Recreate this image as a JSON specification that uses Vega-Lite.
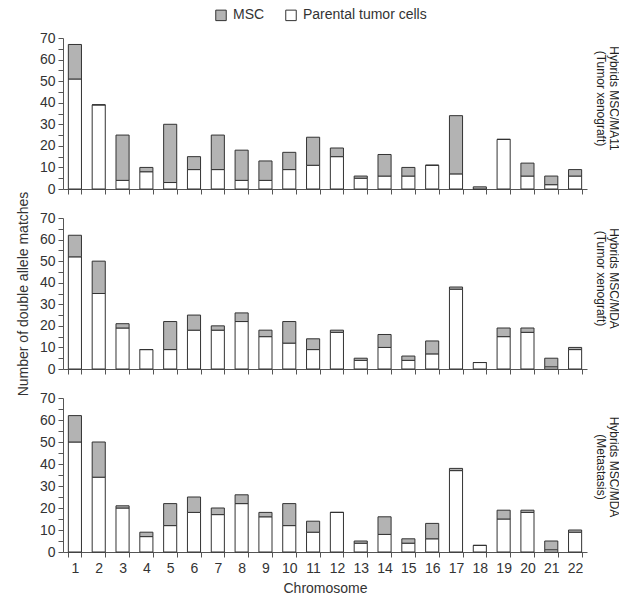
{
  "$schema": "https://vega.github.io/schema/vega-lite/v6.json",
  "padding": {"left": 16, "top": 8, "right": 1, "bottom": 4},
  "background": "white",
  "config": {
    "font": "Liberation Sans",
    "view": {"stroke": null},
    "axis": {"grid": false, "domainColor": "#555", "tickColor": "#555", "labelColor": "#333", "titleColor": "#333", "labelFontSize": 14, "titleFontSize": 14, "titleFontWeight": "normal", "tickSize": 5},
    "title": {"font": "Liberation Sans"}
  },
  "datasets": {
    "d": [
      {"panel": 1, "chr": 1, "type": "Parental tumor cells", "value": 51}, {"panel": 1, "chr": 1, "type": "MSC", "value": 16},
      {"panel": 1, "chr": 2, "type": "Parental tumor cells", "value": 39}, {"panel": 1, "chr": 2, "type": "MSC", "value": 0},
      {"panel": 1, "chr": 3, "type": "Parental tumor cells", "value": 4}, {"panel": 1, "chr": 3, "type": "MSC", "value": 21},
      {"panel": 1, "chr": 4, "type": "Parental tumor cells", "value": 8}, {"panel": 1, "chr": 4, "type": "MSC", "value": 2},
      {"panel": 1, "chr": 5, "type": "Parental tumor cells", "value": 3}, {"panel": 1, "chr": 5, "type": "MSC", "value": 27},
      {"panel": 1, "chr": 6, "type": "Parental tumor cells", "value": 9}, {"panel": 1, "chr": 6, "type": "MSC", "value": 6},
      {"panel": 1, "chr": 7, "type": "Parental tumor cells", "value": 9}, {"panel": 1, "chr": 7, "type": "MSC", "value": 16},
      {"panel": 1, "chr": 8, "type": "Parental tumor cells", "value": 4}, {"panel": 1, "chr": 8, "type": "MSC", "value": 14},
      {"panel": 1, "chr": 9, "type": "Parental tumor cells", "value": 4}, {"panel": 1, "chr": 9, "type": "MSC", "value": 9},
      {"panel": 1, "chr": 10, "type": "Parental tumor cells", "value": 9}, {"panel": 1, "chr": 10, "type": "MSC", "value": 8},
      {"panel": 1, "chr": 11, "type": "Parental tumor cells", "value": 11}, {"panel": 1, "chr": 11, "type": "MSC", "value": 13},
      {"panel": 1, "chr": 12, "type": "Parental tumor cells", "value": 15}, {"panel": 1, "chr": 12, "type": "MSC", "value": 4},
      {"panel": 1, "chr": 13, "type": "Parental tumor cells", "value": 5}, {"panel": 1, "chr": 13, "type": "MSC", "value": 1},
      {"panel": 1, "chr": 14, "type": "Parental tumor cells", "value": 6}, {"panel": 1, "chr": 14, "type": "MSC", "value": 10},
      {"panel": 1, "chr": 15, "type": "Parental tumor cells", "value": 6}, {"panel": 1, "chr": 15, "type": "MSC", "value": 4},
      {"panel": 1, "chr": 16, "type": "Parental tumor cells", "value": 11}, {"panel": 1, "chr": 16, "type": "MSC", "value": 0},
      {"panel": 1, "chr": 17, "type": "Parental tumor cells", "value": 7}, {"panel": 1, "chr": 17, "type": "MSC", "value": 27},
      {"panel": 1, "chr": 18, "type": "Parental tumor cells", "value": 0}, {"panel": 1, "chr": 18, "type": "MSC", "value": 1},
      {"panel": 1, "chr": 19, "type": "Parental tumor cells", "value": 23}, {"panel": 1, "chr": 19, "type": "MSC", "value": 0},
      {"panel": 1, "chr": 20, "type": "Parental tumor cells", "value": 6}, {"panel": 1, "chr": 20, "type": "MSC", "value": 6},
      {"panel": 1, "chr": 21, "type": "Parental tumor cells", "value": 2}, {"panel": 1, "chr": 21, "type": "MSC", "value": 4},
      {"panel": 1, "chr": 22, "type": "Parental tumor cells", "value": 6}, {"panel": 1, "chr": 22, "type": "MSC", "value": 3},

      {"panel": 2, "chr": 1, "type": "Parental tumor cells", "value": 52}, {"panel": 2, "chr": 1, "type": "MSC", "value": 10},
      {"panel": 2, "chr": 2, "type": "Parental tumor cells", "value": 35}, {"panel": 2, "chr": 2, "type": "MSC", "value": 15},
      {"panel": 2, "chr": 3, "type": "Parental tumor cells", "value": 19}, {"panel": 2, "chr": 3, "type": "MSC", "value": 2},
      {"panel": 2, "chr": 4, "type": "Parental tumor cells", "value": 9}, {"panel": 2, "chr": 4, "type": "MSC", "value": 0},
      {"panel": 2, "chr": 5, "type": "Parental tumor cells", "value": 9}, {"panel": 2, "chr": 5, "type": "MSC", "value": 13},
      {"panel": 2, "chr": 6, "type": "Parental tumor cells", "value": 18}, {"panel": 2, "chr": 6, "type": "MSC", "value": 7},
      {"panel": 2, "chr": 7, "type": "Parental tumor cells", "value": 18}, {"panel": 2, "chr": 7, "type": "MSC", "value": 2},
      {"panel": 2, "chr": 8, "type": "Parental tumor cells", "value": 22}, {"panel": 2, "chr": 8, "type": "MSC", "value": 4},
      {"panel": 2, "chr": 9, "type": "Parental tumor cells", "value": 15}, {"panel": 2, "chr": 9, "type": "MSC", "value": 3},
      {"panel": 2, "chr": 10, "type": "Parental tumor cells", "value": 12}, {"panel": 2, "chr": 10, "type": "MSC", "value": 10},
      {"panel": 2, "chr": 11, "type": "Parental tumor cells", "value": 9}, {"panel": 2, "chr": 11, "type": "MSC", "value": 5},
      {"panel": 2, "chr": 12, "type": "Parental tumor cells", "value": 17}, {"panel": 2, "chr": 12, "type": "MSC", "value": 1},
      {"panel": 2, "chr": 13, "type": "Parental tumor cells", "value": 4}, {"panel": 2, "chr": 13, "type": "MSC", "value": 1},
      {"panel": 2, "chr": 14, "type": "Parental tumor cells", "value": 10}, {"panel": 2, "chr": 14, "type": "MSC", "value": 6},
      {"panel": 2, "chr": 15, "type": "Parental tumor cells", "value": 4}, {"panel": 2, "chr": 15, "type": "MSC", "value": 2},
      {"panel": 2, "chr": 16, "type": "Parental tumor cells", "value": 7}, {"panel": 2, "chr": 16, "type": "MSC", "value": 6},
      {"panel": 2, "chr": 17, "type": "Parental tumor cells", "value": 37}, {"panel": 2, "chr": 17, "type": "MSC", "value": 1},
      {"panel": 2, "chr": 18, "type": "Parental tumor cells", "value": 3}, {"panel": 2, "chr": 18, "type": "MSC", "value": 0},
      {"panel": 2, "chr": 19, "type": "Parental tumor cells", "value": 15}, {"panel": 2, "chr": 19, "type": "MSC", "value": 4},
      {"panel": 2, "chr": 20, "type": "Parental tumor cells", "value": 17}, {"panel": 2, "chr": 20, "type": "MSC", "value": 2},
      {"panel": 2, "chr": 21, "type": "Parental tumor cells", "value": 1}, {"panel": 2, "chr": 21, "type": "MSC", "value": 4},
      {"panel": 2, "chr": 22, "type": "Parental tumor cells", "value": 9}, {"panel": 2, "chr": 22, "type": "MSC", "value": 1},

      {"panel": 3, "chr": 1, "type": "Parental tumor cells", "value": 50}, {"panel": 3, "chr": 1, "type": "MSC", "value": 12},
      {"panel": 3, "chr": 2, "type": "Parental tumor cells", "value": 34}, {"panel": 3, "chr": 2, "type": "MSC", "value": 16},
      {"panel": 3, "chr": 3, "type": "Parental tumor cells", "value": 20}, {"panel": 3, "chr": 3, "type": "MSC", "value": 1},
      {"panel": 3, "chr": 4, "type": "Parental tumor cells", "value": 7}, {"panel": 3, "chr": 4, "type": "MSC", "value": 2},
      {"panel": 3, "chr": 5, "type": "Parental tumor cells", "value": 12}, {"panel": 3, "chr": 5, "type": "MSC", "value": 10},
      {"panel": 3, "chr": 6, "type": "Parental tumor cells", "value": 18}, {"panel": 3, "chr": 6, "type": "MSC", "value": 7},
      {"panel": 3, "chr": 7, "type": "Parental tumor cells", "value": 17}, {"panel": 3, "chr": 7, "type": "MSC", "value": 3},
      {"panel": 3, "chr": 8, "type": "Parental tumor cells", "value": 22}, {"panel": 3, "chr": 8, "type": "MSC", "value": 4},
      {"panel": 3, "chr": 9, "type": "Parental tumor cells", "value": 16}, {"panel": 3, "chr": 9, "type": "MSC", "value": 2},
      {"panel": 3, "chr": 10, "type": "Parental tumor cells", "value": 12}, {"panel": 3, "chr": 10, "type": "MSC", "value": 10},
      {"panel": 3, "chr": 11, "type": "Parental tumor cells", "value": 9}, {"panel": 3, "chr": 11, "type": "MSC", "value": 5},
      {"panel": 3, "chr": 12, "type": "Parental tumor cells", "value": 18}, {"panel": 3, "chr": 12, "type": "MSC", "value": 0},
      {"panel": 3, "chr": 13, "type": "Parental tumor cells", "value": 4}, {"panel": 3, "chr": 13, "type": "MSC", "value": 1},
      {"panel": 3, "chr": 14, "type": "Parental tumor cells", "value": 8}, {"panel": 3, "chr": 14, "type": "MSC", "value": 8},
      {"panel": 3, "chr": 15, "type": "Parental tumor cells", "value": 4}, {"panel": 3, "chr": 15, "type": "MSC", "value": 2},
      {"panel": 3, "chr": 16, "type": "Parental tumor cells", "value": 6}, {"panel": 3, "chr": 16, "type": "MSC", "value": 7},
      {"panel": 3, "chr": 17, "type": "Parental tumor cells", "value": 37}, {"panel": 3, "chr": 17, "type": "MSC", "value": 1},
      {"panel": 3, "chr": 18, "type": "Parental tumor cells", "value": 3}, {"panel": 3, "chr": 18, "type": "MSC", "value": 0},
      {"panel": 3, "chr": 19, "type": "Parental tumor cells", "value": 15}, {"panel": 3, "chr": 19, "type": "MSC", "value": 4},
      {"panel": 3, "chr": 20, "type": "Parental tumor cells", "value": 18}, {"panel": 3, "chr": 20, "type": "MSC", "value": 1},
      {"panel": 3, "chr": 21, "type": "Parental tumor cells", "value": 1}, {"panel": 3, "chr": 21, "type": "MSC", "value": 4},
      {"panel": 3, "chr": 22, "type": "Parental tumor cells", "value": 9}, {"panel": 3, "chr": 22, "type": "MSC", "value": 1}
    ]
  },
  "spacing": 29,
  "bounds": "flush",
  "vconcat": [
    {
      "width": 524, "height": 151,
      "data": {"name": "d"},
      "transform": [{"filter": "datum.panel === 1"}],
      "title": {"text": ["Hybrids MSC/MA11", "(Tumor xenograft)"], "orient": "right", "anchor": "middle", "offset": 7, "dx": -15, "fontSize": 12, "fontWeight": "normal", "color": "#222", "lineHeight": 12.5},
      "mark": {"type": "bar", "stroke": "#333", "strokeWidth": 1},
      "encoding": {
        "x": {"field": "chr", "type": "ordinal", "scale": {"paddingInner": 0.45}, "axis": {"labels": false, "title": null, "tickBand": "extent"}},
        "y": {"field": "value", "type": "quantitative", "stack": "zero", "scale": {"domain": [0, 70]}, "axis": {"values": [0, 5, 10, 15, 20, 25, 30, 35, 40, 45, 50, 55, 60, 65, 70], "labelExpr": "datum.value % 10 === 0 ? datum.label : ''", "labelPadding": 3, "title": null}},
        "color": {"field": "type", "type": "nominal", "scale": {"domain": ["MSC", "Parental tumor cells"], "range": ["#b3b3b3", "#ffffff"]}, "legend": {"orient": "none", "legendX": 151, "legendY": -30, "direction": "horizontal", "title": null, "symbolType": "square", "symbolSize": 110, "symbolStrokeColor": "#333", "symbolStrokeWidth": 1, "labelFontSize": 14, "labelColor": "#333", "columnPadding": 18, "labelOffset": 5}},
        "order": {"field": "type", "sort": "descending"}
      }
    },
    {
      "width": 524, "height": 151,
      "data": {"name": "d"},
      "transform": [{"filter": "datum.panel === 2"}],
      "title": {"text": ["Hybrids MSC/MDA", "(Tumor xenograft)"], "orient": "right", "anchor": "middle", "offset": 7, "dx": -15, "fontSize": 12, "fontWeight": "normal", "color": "#222", "lineHeight": 12.5},
      "mark": {"type": "bar", "stroke": "#333", "strokeWidth": 1},
      "encoding": {
        "x": {"field": "chr", "type": "ordinal", "scale": {"paddingInner": 0.45}, "axis": {"labels": false, "title": null, "tickBand": "extent"}},
        "y": {"field": "value", "type": "quantitative", "stack": "zero", "scale": {"domain": [0, 70]}, "axis": {"values": [0, 5, 10, 15, 20, 25, 30, 35, 40, 45, 50, 55, 60, 65, 70], "labelExpr": "datum.value % 10 === 0 ? datum.label : ''", "labelPadding": 3, "title": "Number of double allele matches", "titlePadding": 9}},
        "color": {"field": "type", "type": "nominal", "scale": {"domain": ["MSC", "Parental tumor cells"], "range": ["#b3b3b3", "#ffffff"]}},
        "order": {"field": "type", "sort": "descending"}
      }
    },
    {
      "width": 524, "height": 154,
      "data": {"name": "d"},
      "transform": [{"filter": "datum.panel === 3"}],
      "title": {"text": ["Hybrids MSC/MDA", "(Metastasis)"], "orient": "right", "anchor": "middle", "offset": 7, "dx": -8, "fontSize": 12, "fontWeight": "normal", "color": "#222", "lineHeight": 12.5},
      "mark": {"type": "bar", "stroke": "#333", "strokeWidth": 1},
      "encoding": {
        "x": {"field": "chr", "type": "ordinal", "scale": {"paddingInner": 0.45}, "axis": {"labelAngle": 0, "labelPadding": 4, "title": "Chromosome", "titlePadding": 6, "tickBand": "extent"}},
        "y": {"field": "value", "type": "quantitative", "stack": "zero", "scale": {"domain": [0, 70]}, "axis": {"values": [0, 5, 10, 15, 20, 25, 30, 35, 40, 45, 50, 55, 60, 65, 70], "labelExpr": "datum.value % 10 === 0 ? datum.label : ''", "labelPadding": 3, "title": null}},
        "color": {"field": "type", "type": "nominal", "scale": {"domain": ["MSC", "Parental tumor cells"], "range": ["#b3b3b3", "#ffffff"]}},
        "order": {"field": "type", "sort": "descending"}
      }
    }
  ]
}
